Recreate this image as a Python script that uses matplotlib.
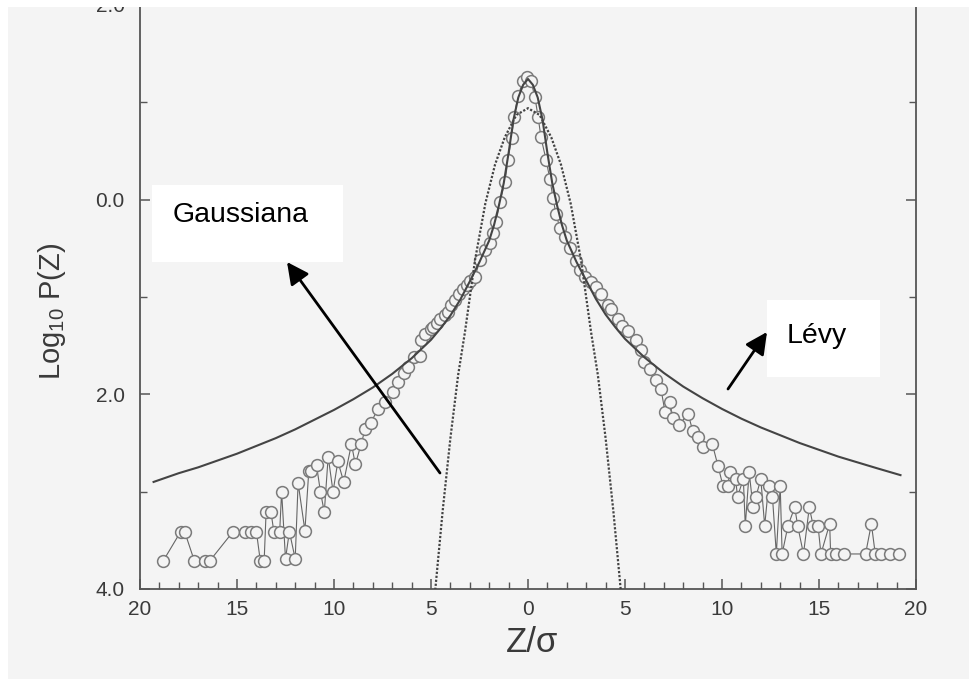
import numpy as np
import matplotlib
matplotlib.use("Agg")
import matplotlib.pyplot as plt
from matplotlib.patches import Rectangle, FancyArrowPatch
from matplotlib.ticker import MultipleLocator, FixedLocator

plt.rcParams['font.family'] = ['Liberation Sans', 'DejaVu Sans']
plt.rcParams['mathtext.default'] = 'regular'

# distribuicao empirica dos retornos normalizados (log10 da densidade)
z_data = [-18.8, -17.9, -17.7, -17.2, -16.65, -16.4, -15.2, -14.6, -14.3, -14.0,
          -13.8, -13.6, -13.5, -13.25, -13.1, -12.8, -12.7, -12.5, -12.3, -12.0,
          -11.85, -11.5, -11.3, -11.2, -10.9, -10.7, -10.5, -10.3, -10.05, -9.8,
          -9.5, -9.1, -8.9, -8.6, -8.4, -8.1, -7.73, -7.37, -6.96, -6.7,
          -6.4, -6.2, -5.9, -5.57, -5.5, -5.3, -5.0, -4.9, -4.7, -4.54,
          -4.3, -4.12, -3.95, -3.76, -3.55, -3.35, -3.15, -3.0, -2.73, -2.47,
          -2.2, -1.96, -1.8, -1.65, -1.44, -1.19, -1.03, -0.85, -0.72, -0.52,
          -0.26, -0.05, 0.15, 0.36, 0.52, 0.67, 0.93, 1.13, 1.29, 1.44,
          1.65, 1.9, 2.16, 2.47, 2.7, 2.94, 3.25, 3.5, 3.76, 4.1,
          4.3, 4.64, 4.85, 5.15, 5.57, 5.8, 6.0, 6.3, 6.6, 6.86,
          7.06, 7.3, 7.47, 7.8, 8.25, 8.5, 8.76, 9.0, 9.5, 9.8,
          10.05, 10.3, 10.4, 10.7, 10.8, 11.1, 11.2, 11.4, 11.6, 11.75,
          12.0, 12.2, 12.4, 12.6, 12.8, 13.0, 13.1, 13.4, 13.75, 13.9,
          14.2, 14.5, 14.7, 14.95, 15.1, 15.55, 15.6, 15.9, 16.3, 17.4,
          17.7, 17.9, 18.2, 18.65, 19.1]
logp_data = [-3.71, -3.41, -3.41, -3.71, -3.71, -3.71, -3.41, -3.41, -3.41, -3.41,
             -3.71, -3.71, -3.21, -3.21, -3.41, -3.41, -3.00, -3.69, -3.41, -3.69,
             -2.91, -3.40, -2.79, -2.79, -2.73, -3.00, -3.21, -2.64, -3.00, -2.69,
             -2.90, -2.51, -2.72, -2.51, -2.36, -2.29, -2.15, -2.08, -1.98, -1.87,
             -1.78, -1.72, -1.62, -1.61, -1.44, -1.38, -1.33, -1.31, -1.27, -1.23,
             -1.19, -1.15, -1.08, -1.03, -0.97, -0.92, -0.88, -0.84, -0.79, -0.62,
             -0.52, -0.45, -0.34, -0.23, -0.02, 0.18, 0.41, 0.63, 0.85, 1.06,
             1.22, 1.26, 1.22, 1.05, 0.85, 0.64, 0.41, 0.21, 0.02, -0.15,
             -0.29, -0.38, -0.50, -0.63, -0.72, -0.79, -0.85, -0.90, -0.97, -1.08,
             -1.12, -1.23, -1.30, -1.35, -1.44, -1.54, -1.67, -1.74, -1.85, -1.95,
             -2.18, -2.08, -2.24, -2.31, -2.20, -2.38, -2.44, -2.54, -2.51, -2.74,
             -2.94, -2.94, -2.80, -2.87, -3.05, -2.87, -3.35, -2.80, -3.16, -3.05,
             -2.87, -3.35, -2.94, -3.05, -3.64, -2.94, -3.64, -3.35, -3.16, -3.35,
             -3.64, -3.16, -3.35, -3.35, -3.64, -3.33, -3.64, -3.64, -3.64, -3.64,
             -3.33, -3.64, -3.64, -3.64, -3.64]

# ajuste de Levy estavel
z_levy = [-19.3, -18, -17, -16, -15, -14, -13, -12, -11, -10,
          -9, -8, -7, -6, -5, -4.5, -4, -3.5, -3, -2.5,
          -2, -1.75, -1.5, -1.25, -1, -0.75, -0.5, -0.25, 0, 0.25,
          0.5, 0.75, 1, 1.25, 1.5, 1.75, 2, 2.5, 3, 3.5,
          4, 4.5, 5, 6, 7, 8, 9, 10, 11, 12,
          13, 14, 15, 16, 17, 18, 19.2]
logp_levy = [-2.90, -2.81, -2.75, -2.68, -2.61, -2.53, -2.45, -2.36, -2.26, -2.16,
             -2.05, -1.93, -1.79, -1.63, -1.44, -1.32, -1.19, -1.03, -0.84, -0.64,
             -0.42, -0.26, -0.06, 0.17, 0.48, 0.82, 1.05, 1.18, 1.24, 1.18,
             1.05, 0.82, 0.48, 0.17, -0.06, -0.26, -0.42, -0.64, -0.83, -1.02,
             -1.18, -1.31, -1.43, -1.62, -1.78, -1.92, -2.04, -2.15, -2.25, -2.34,
             -2.42, -2.50, -2.57, -2.64, -2.70, -2.76, -2.83]

# gaussiana com a mesma variancia
z_gauss = [-4.8, -4.4, -4.0, -3.6, -3.25, -2.73, -2.2, -1.7, -1.2, -0.6, 0,
           0.6, 1.2, 1.7, 2.2, 2.73, 3.25, 3.6, 4.0, 4.4, 4.8]
logp_gauss = [-4.05, -3.20, -2.45, -1.80, -1.36, -0.62, -0.04, 0.36, 0.64, 0.87, 0.94,
              0.87, 0.64, 0.36, -0.04, -0.62, -1.36, -1.80, -2.45, -3.20, -4.05]

x_ticks = [-20, -15, -10, -5, 0, 5, 10, 15, 20]
x_ticklabels = ['20', '15', '10', '5', '0', '5', '10', '15', '20']
y_ticks = [2, 0, -2, -4]
y_ticklabels = ['2.0', '0.0', '2.0', '4.0']

W, H = 969, 682
bg = '#f4f4f4'


def fx(px):
    return px / W


def fy(py):
    return 1 - py / H


fig = plt.figure(figsize=(W / 100, H / 100), dpi=100, facecolor=bg)
ax = fig.add_axes([fx(140), fy(589), fx(916) - fx(140), fy(5) - fy(589)])
ax.set_facecolor(bg)

ax.plot(z_data, logp_data, '-', color='#666666', lw=0.8, marker='o', ms=8.5,
        mfc=bg, mec='#7a7a7a', mew=1.1, zorder=2)
ax.plot(z_levy, logp_levy, '-', color='#444444', lw=1.5, zorder=3)
ax.plot(z_gauss, logp_gauss, color='#444444', lw=1.6, ls=(0, (1, 0.8)), zorder=3)

ax.set_xlim(-20, 20)
ax.set_ylim(-4, 2)
ax.xaxis.set_major_locator(FixedLocator(x_ticks))
ax.set_xticklabels(x_ticklabels)
ax.xaxis.set_minor_locator(MultipleLocator(1))
ax.yaxis.set_major_locator(FixedLocator(y_ticks))
ax.set_yticklabels(y_ticklabels)
ax.yaxis.set_minor_locator(MultipleLocator(1))

ax.spines['top'].set_visible(False)
for s in ['left', 'right', 'bottom']:
    ax.spines[s].set_color('#555555')
    ax.spines[s].set_linewidth(1.3)
ax.tick_params(which='both', direction='in', right=True, top=False,
               color='#555555', labelcolor='#3a3a3a', labelsize=15)
ax.tick_params(which='major', length=7, width=1.1)
ax.tick_params(which='minor', length=5, width=1.0)
ax.tick_params(axis='y', pad=11)
ax.tick_params(axis='x', pad=8)

fig.text(fx(52), fy(311), 'Log$_{10}$ P(Z)', rotation=90, ha='center', va='center',
         fontsize=21, color='#3a3a3a')
fig.text(fx(532), fy(643), 'Z/σ', ha='center', va='center', fontsize=25, color='#3a3a3a')

# caixas de legenda com setas
fig.add_artist(Rectangle((fx(152), fy(262)), fx(343) - fx(152), fy(185) - fy(262),
                         transform=fig.transFigure, facecolor='white', edgecolor='none', zorder=5))
fig.text(fx(173), fy(222), 'Gaussiana', fontsize=20.5, color='black', va='baseline', zorder=6)
fig.add_artist(Rectangle((fx(767), fy(377)), fx(880) - fx(767), fy(300) - fy(377),
                         transform=fig.transFigure, facecolor='white', edgecolor='none', zorder=5))
fig.text(fx(787), fy(343), 'Lévy', fontsize=20.5, color='black', va='baseline', zorder=6)

for tail, tip in [((440, 473), (287, 262)), ((728, 389), (767, 332))]:
    fig.add_artist(FancyArrowPatch((fx(tail[0]), fy(tail[1])), (fx(tip[0]), fy(tip[1])),
                                   transform=fig.transFigure,
                                   arrowstyle='-|>,head_length=0.6,head_width=0.3',
                                   mutation_scale=22, lw=2, color='black',
                                   shrinkA=0, shrinkB=0, zorder=7))

# bordas brancas da digitalizacao
fig.add_artist(Rectangle((0, fy(7)), 1, 7 / H, transform=fig.transFigure,
                         facecolor='white', edgecolor='none', zorder=10))
fig.add_artist(Rectangle((0, 0), 8 / W, 1, transform=fig.transFigure,
                         facecolor='white', edgecolor='none', zorder=10))
fig.add_artist(Rectangle((0, 0), 1, 3 / H, transform=fig.transFigure,
                         facecolor='white', edgecolor='none', zorder=10))

fig.savefig('out.png', dpi=100, facecolor=bg)
